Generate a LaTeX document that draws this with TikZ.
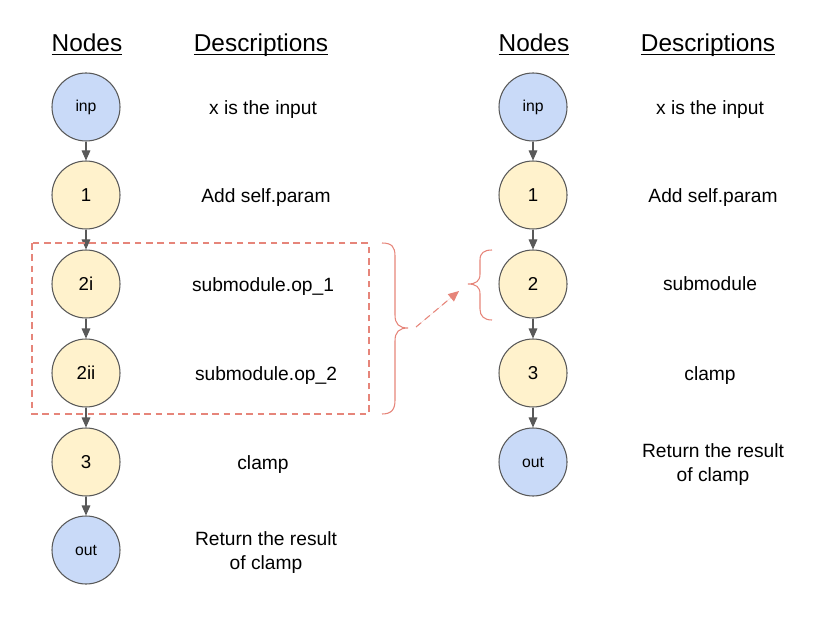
\documentclass[tikz,border=0pt]{standalone}
\usepackage{fontspec}
\setmainfont{Liberation Sans}
\usepackage{tikz}
\usetikzlibrary{positioning,calc,arrows.meta}
\usepackage{xcolor}

\definecolor{nodeblue}{HTML}{C9DAF8}
\definecolor{nodeyellow}{HTML}{FFF2CC}
\definecolor{edgegray}{HTML}{595959}
\definecolor{salmon}{HTML}{E6857A}

\tikzset{
  opnode/.style={circle, draw=edgegray, line width=0.8pt, minimum size=51pt,
    inner sep=0pt},
  ionode/.style={opnode, fill=nodeblue, font=\fontsize{11.8}{14}\selectfont},
  calcnode/.style={opnode, fill=nodeyellow, font=\fontsize{14}{16}\selectfont},
  header/.style={anchor=base, font=\fontsize{18.3}{22}\selectfont},
  desc/.style={font=\fontsize{14.4}{18}\selectfont, align=center},
  flow/.style={draw=edgegray, line width=0.8pt,
    -{Triangle[length=7.5pt,width=6.5pt]}, fill=edgegray},
  groupline/.style={draw=salmon, line width=0.8pt}
}

\begin{document}
\begin{tikzpicture}[x=0.75pt, y=-0.75pt]
    \useasboundingbox (0,0) rectangle (816,623);

    % Headers
    \node[header] (hnodesL) at (87, 52) {\underline{\smash{Nodes}}};
    \node[header] (hdescL) at (261, 52) {\underline{\smash{Descriptions}}};
    \node[header] (hnodesR) at (534, 52) {\underline{\smash{Nodes}}};
    \node[header] (hdescR) at (708, 52) {\underline{\smash{Descriptions}}};

    % Original graph
    \node[ionode]   (inpL) at (86, 107) {inp};
    \node[calcnode] (aL)   at (86, 195) {1};
    \node[calcnode] (biL)  at (86, 284) {2i};
    \node[calcnode] (biiL) at (86, 373) {2ii};
    \node[calcnode] (cL)   at (86, 462) {3};
    \node[ionode]   (outL) at (86, 550) {out};

    \foreach \from/\to in {inpL/aL, aL/biL, biL/biiL, biiL/cL, cL/outL}
      \draw[flow] (\from) -- (\to);

    \node[desc] (dinpL) at (263, 109.5) {x is the input};
    \node[desc] (daL)   at (266, 197.5) {Add self.param};
    \node[desc] (dbiL)  at (263, 286.5) {submodule.op\_1};
    \node[desc] (dbiiL) at (266, 375.5) {submodule.op\_2};
    \node[desc] (dcL)   at (263, 464.5) {clamp};
    \node[desc] (doutL) at (266, 553) {Return the result\\of clamp};

    % Submodule group
    \draw[groupline, dash pattern=on 5pt off 3.5pt] (32, 243) rectangle (369, 414);
    \draw[groupline] (382, 243) .. controls (392, 243) and (395, 247) .. (395, 256)
      -- (395, 315) .. controls (395, 324) and (399, 328) .. (408, 328)
      .. controls (399, 328) and (395, 332) .. (395, 341)
      -- (395, 400) .. controls (395, 409) and (392, 414) .. (382, 414);
    \coordinate (bigtip) at (416, 327);

    % Collapsed graph
    \node[ionode]   (inpR) at (533, 107) {inp};
    \node[calcnode] (aR)   at (533, 195) {1};
    \node[calcnode] (bR)   at (533, 284) {2};
    \node[calcnode] (cR)   at (533, 373) {3};
    \node[ionode]   (outR) at (533, 462) {out};

    \foreach \from/\to in {inpR/aR, aR/bR, bR/cR, cR/outR}
      \draw[flow] (\from) -- (\to);

    \node[desc] (dinpR) at (710, 109.5) {x is the input};
    \node[desc] (daR)   at (713, 197.5) {Add self.param};
    \node[desc] (dbR)   at (710, 284) {submodule};
    \node[desc] (dcR)   at (710, 375.5) {clamp};
    \node[desc] (doutR) at (713, 465) {Return the result\\of clamp};

    \draw[groupline] (492, 250) .. controls (484, 250) and (480, 253) .. (480, 260)
      -- (480, 274) .. controls (480, 281) and (476, 284) .. (468, 284)
      .. controls (476, 284) and (480, 287) .. (480, 294)
      -- (480, 309) .. controls (480, 316) and (484, 320) .. (492, 320);
    \coordinate (smalltip) at (459, 291);

    % Link between the two
    \draw[groupline, dash pattern=on 5pt off 3.5pt,
      -{Triangle[length=8pt,width=7pt]}, fill=salmon] (bigtip) -- (smalltip);
\end{tikzpicture}
\end{document}
